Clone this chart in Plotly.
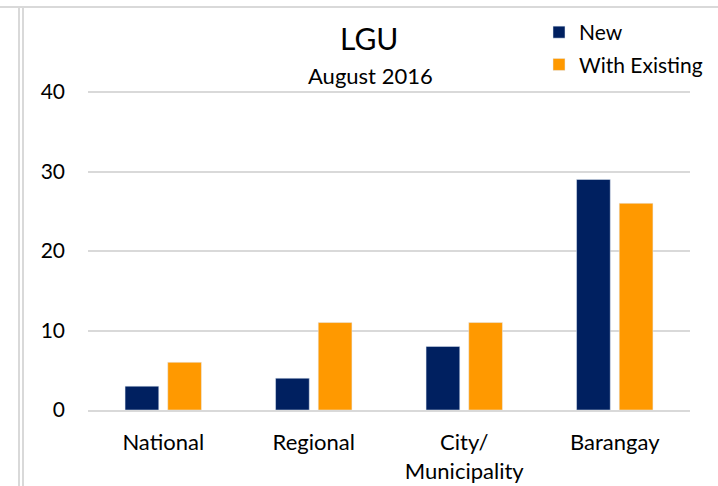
import plotly.graph_objects as go

categories = ["National", "Regional", "City/<br>Municipality", "Barangay"]
new_vals = [3, 4, 8, 29]
existing_vals = [6, 11, 11, 26]
y_ticks = [0, 10, 20, 30, 40]

FONT = "Lato, Carlito, 'Open Sans', sans-serif"
L, R, T, B = 88, 28, 87, 76
W, H = 718, 486
pw, ph = W - L - R, H - T - B

def px(x):
    return (x - L) / pw

def py(y):
    return (H - B - y) / ph

fig = go.Figure()
fig.add_trace(go.Bar(name="New", x=categories, y=new_vals, marker_color="#002060",
                     legendgroup="a"))
fig.add_trace(go.Bar(name="With Existing", x=categories, y=existing_vals,
                     marker_color="#FF9900", legendgroup="b"))

grey = "#d9d9d9"
shapes = [
    dict(type="line", xref="paper", yref="paper", x0=px(0), x1=px(W), y0=py(7), y1=py(7),
         line=dict(color=grey, width=2)),
    dict(type="line", xref="paper", yref="paper", x0=px(19), x1=px(19), y0=py(7), y1=py(H),
         line=dict(color=grey, width=2)),
    dict(type="line", xref="paper", yref="paper", x0=px(23), x1=px(23), y0=py(7), y1=py(H),
         line=dict(color=grey, width=2)),
]

annotations = [
    dict(text="LGU", xref="paper", yref="paper", x=px(369), y=py(38), showarrow=False,
         font=dict(family=FONT, size=30, color="#000000"), xanchor="center", yanchor="middle"),
    dict(text="August 2016", xref="paper", yref="paper", x=px(370), y=py(75), showarrow=False,
         font=dict(family=FONT, size=22, color="#000000"), xanchor="center", yanchor="middle"),
]

fig.update_layout(
    width=W, height=H,
    margin=dict(l=L, r=R, t=T, b=B, pad=0, autoexpand=False),
    paper_bgcolor="white", plot_bgcolor="white",
    font=dict(family=FONT, size=22, color="#000000"),
    barmode="group", bargap=0.433, bargroupgap=0.21,
    showlegend=True,
    legend=dict(x=px(539), y=py(12), xanchor="left", yanchor="top",
                font=dict(family=FONT, size=21), tracegroupgap=2,
                bgcolor="rgba(0,0,0,0)", itemwidth=30),
    shapes=shapes, annotations=annotations,
    xaxis=dict(showgrid=False, showline=True, linecolor=grey, linewidth=2, automargin=False,
               ticks="", ticklabelstandoff=12, tickfont=dict(size=22)),
    yaxis=dict(range=[0, 323 / 7.95], tickvals=y_ticks, showgrid=True, gridcolor=grey,
               gridwidth=1.5, automargin=False,
               zeroline=False, showline=False, ticks="", ticklabelstandoff=22,
               tickfont=dict(size=21)),
)

fig.write_html("out.html", config={"displayModeBar": False},
               post_script="document.body.style.margin='0px';")
